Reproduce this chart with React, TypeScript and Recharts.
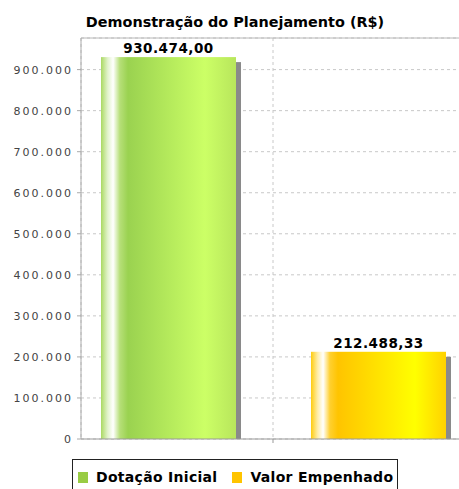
import React from 'react';
import {
  BarChart, Bar, XAxis, YAxis, CartesianGrid, LabelList, ReferenceLine,
} from 'recharts';

const CATEGORIES = ['Planejamento'];
const DOTACAO = [930474.0];
const EMPENHADO = [212488.33];
const Y_TICKS = [0, 100000, 200000, 300000, 400000, 500000, 600000, 700000, 800000, 900000];
const Y_MAX = 977000;

const SERIES = [
  { key: 'dotacao', label: 'Dotação Inicial', swatch: '#99cc44', grad: 'gGreen' },
  { key: 'empenhado', label: 'Valor Empenhado', swatch: '#ffc400', grad: 'gOrange' },
];

const data = CATEGORIES.map((c, i) => ({ name: c, dotacao: DOTACAO[i], empenhado: EMPENHADO[i] }));

const thousands = (n: number) => {
  const s = Math.floor(Math.abs(n)).toString();
  return s.replace(/\B(?=(\d{3})+(?!\d))/g, '.');
};
const fmtTick = (n: number) => thousands(n);
const fmtValue = (n: number) => {
  const cents = Math.round(n * 100) % 100;
  return thousands(n) + ',' + String(cents).padStart(2, '0');
};

const FONT = "'DejaVu Sans', sans-serif";

// bar with a grey drop shadow behind it, filled with a sideways gradient
const ShadowBar = (gradId: string) => (props: any) => {
  const { x, y, width, height } = props;
  if (!height || height <= 0) return null;
  const off = 5;
  return (
    <g>
      <rect x={x + off} y={y + off} width={width} height={Math.max(0, height - off)} fill="#8a8a8a" />
      <rect x={x} y={y} width={width} height={height} fill={`url(#${gradId})`} />
    </g>
  );
};

const EmptyTick = () => <g />;

export default function App() {
  return (
    <div style={{ position: 'fixed', left: 0, top: 0, width: 459, height: 489, overflow: 'hidden', background: '#fff' }}>
      <div style={{
        position: 'absolute', left: 0, top: 14, width: 470, textAlign: 'center',
        fontFamily: FONT, fontWeight: 700, fontSize: 14.4, color: '#000', lineHeight: '17px',
      }}>
        Demonstração do Planejamento (R$)
      </div>
      <BarChart
        width={470}
        height={489}
        data={data}
        margin={{ top: 38, right: 5, left: 0, bottom: 40 }}
        barSize={135}
        barGap={75}
        style={{ position: 'absolute', left: 0, top: 0 }}
      >
        <defs>
          <linearGradient id="gGreen" x1="0" y1="0" x2="1" y2="0">
            <stop offset="0" stopColor="#aad963" />
            <stop offset="0.05" stopColor="#e2f3cc" />
            <stop offset="0.09" stopColor="#ffffff" />
            <stop offset="0.14" stopColor="#b6df78" />
            <stop offset="0.2" stopColor="#9ad250" />
            <stop offset="0.77" stopColor="#ccff66" />
            <stop offset="1" stopColor="#b8e65c" />
          </linearGradient>
          <linearGradient id="gOrange" x1="0" y1="0" x2="1" y2="0">
            <stop offset="0" stopColor="#ffcc10" />
            <stop offset="0.05" stopColor="#ffeeaa" />
            <stop offset="0.09" stopColor="#ffffff" />
            <stop offset="0.14" stopColor="#ffd030" />
            <stop offset="0.2" stopColor="#ffc400" />
            <stop offset="0.77" stopColor="#ffff00" />
            <stop offset="1" stopColor="#ffd200" />
          </linearGradient>
        </defs>
        <CartesianGrid stroke="#c8c8c8" strokeDasharray="3 3" />
        <ReferenceLine y={Y_MAX} stroke="#b8b8b8" />
        <XAxis
          dataKey="name"
          height={10}
          axisLine={{ stroke: '#999' }}
          tickLine={{ stroke: '#999' }}
          tickSize={4}
          tick={<EmptyTick />}
        />
        <YAxis
          width={81}
          domain={[0, Y_MAX]}
          ticks={Y_TICKS}
          tickFormatter={fmtTick}
          tickSize={4}
          tickMargin={4}
          axisLine={{ stroke: '#aaa' }}
          tickLine={{ stroke: '#aaa' }}
          tick={{ fill: '#444', fontSize: 11, fontFamily: FONT, letterSpacing: 2 }}
        />
        {SERIES.map((s) => (
          <Bar key={s.key} dataKey={s.key} fill={s.swatch} shape={ShadowBar(s.grad)} isAnimationActive={false}>
            <LabelList
              dataKey={s.key}
              position="top"
              offset={4}
              formatter={(v: any) => fmtValue(Number(v))}
              style={{ fill: '#000', fontSize: 13.5, fontWeight: 700, fontFamily: FONT, letterSpacing: 0.5 }}
            />
          </Bar>
        ))}
      </BarChart>
      <div style={{
        position: 'absolute', left: 72, top: 459, width: 326, height: 36, boxSizing: 'border-box',
        border: '1px solid #222', display: 'flex', alignItems: 'flex-start', paddingLeft: 5, paddingTop: 9,
        fontFamily: FONT, fontWeight: 700, fontSize: 14, color: '#000', lineHeight: '17px',
        whiteSpace: 'nowrap', letterSpacing: 0.3,
      }}>
        {SERIES.map((s, i) => (
          <span key={s.key} style={{ display: 'flex', alignItems: 'center', marginLeft: i ? 15 : 0 }}>
            <span style={{ width: 10, height: 11, background: s.swatch, marginRight: 8, display: 'inline-block' }} />
            {s.label}
          </span>
        ))}
      </div>
    </div>
  );
}
